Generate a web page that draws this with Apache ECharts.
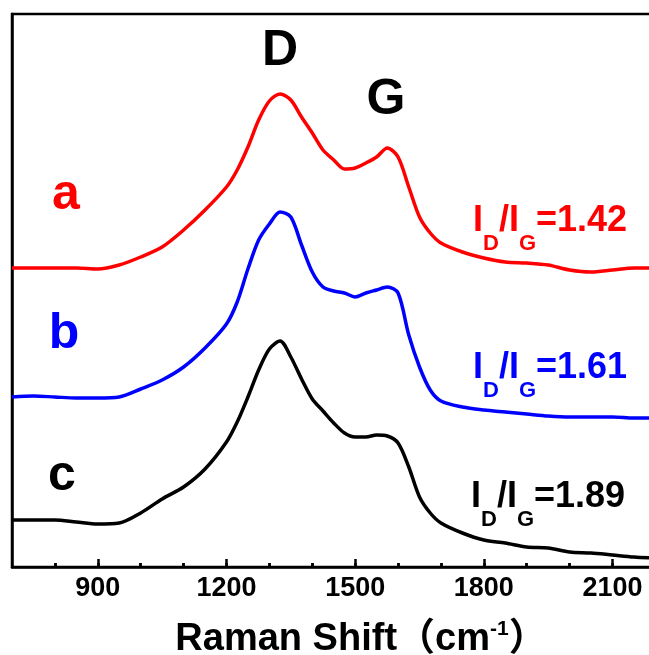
<!DOCTYPE html>
<html>
<head>
<meta charset="utf-8">
<script src="https://cdn.jsdelivr.net/npm/echarts@6/dist/echarts.min.js"></script>
<style>
html, body { margin: 0; padding: 0; background: #fff; }
#raman { width: 649px; height: 655px; }
</style>
</head>
<body>
<div id="raman"></div>
<script>
// raman shift (cm-1), shared by all three spectra
var shift = [700, 750, 800, 850, 900, 950, 1000, 1050, 1100, 1150, 1200, 1225, 1250, 1275, 1300, 1325, 1350, 1375, 1400, 1425,
    1450, 1475, 1500, 1525, 1550, 1575, 1600, 1625, 1650, 1675, 1700, 1750, 1800, 1850, 1900, 1950, 2000, 2050, 2100, 2150, 2192];
// intensities (a.u., already offset)
var specA = [299, 299, 299, 299, 298, 302, 310, 320, 337, 357, 380, 397, 420, 447, 466, 473, 467, 450, 434, 417,
    407, 398, 399, 404, 410, 419, 410, 380, 350, 334, 324, 315, 309, 305, 304, 302, 297, 295, 297, 299, 299];
var specB = [170, 171, 170, 169, 169, 170, 178, 187, 200, 219, 243, 265, 298, 327, 343, 355, 350, 322, 295, 280,
    276, 274, 270, 274, 277, 280, 274, 232, 200, 177, 166, 160, 157, 155, 153, 151, 150, 150, 150, 149, 149];
var specC = [47, 47, 47, 45, 43, 44, 54, 68, 80, 98, 125, 145, 170, 197, 218, 226, 210, 188, 168, 156,
    144, 134, 130, 130, 132, 131, 124, 100, 70, 54, 44, 34, 27, 24, 20, 19, 15, 14, 12, 10, 9];
var majorTicks = [900, 1200, 1500, 1800, 2100];
var minorTicks = [800, 1000, 1100, 1300, 1400, 1600, 1700, 1900, 2000];
var ratios = ['1.42', '1.61', '1.89'];

function pairs(ys) {
    return shift.map(function (x, i) { return [x, ys[i]]; });
}

var font = '"Liberation Sans", Arial, "Noto Sans CJK SC", sans-serif';

// inward tick marks as markLine segments (y axis is 1 unit per pixel)
function tickLines(values, len) {
    return values.map(function (v) {
        return [{coord: [v, 0]}, {coord: [v, len]}];
    });
}

function ratioText(val, color, left, top) {
    var main = {fontSize: 36, fontWeight: 'bold', fontFamily: font, lineHeight: 36, verticalAlign: 'top', color: color};
    var sub = {fontSize: 22, fontWeight: 'bold', fontFamily: font, lineHeight: 22, verticalAlign: 'top', padding: [30, 0, 0, 0], color: color};
    return {
        type: 'text', left: left, top: top, z: 100,
        style: {
            text: '{m|I}{s|D}{m|/I}{s|G}{m|=' + val + '}',
            rich: {m: main, s: sub},
            fill: color
        }
    };
}

function bigLabel(txt, color, x, y) {
    return {
        type: 'text', x: x, y: y, z: 100,
        style: {
            text: txt, fill: color, font: 'bold 50px ' + font,
            textAlign: 'center', textVerticalAlign: 'middle'
        }
    };
}

var option = {
    animation: false,
    grid: {left: 12, right: -3, top: 14, bottom: 88, outerBoundsMode: 'none', containLabel: false,
        show: true, borderColor: '#000', borderWidth: 2.5},
    xAxis: {
        type: 'value', min: 700, max: 2192, interval: 100,
        name: '{t|Raman Shift（cm}{p|-1}{t|）}',
        nameLocation: 'middle', nameGap: 52,
        nameTextStyle: {
            padding: [0, 0, 0, 58],
            rich: {
                t: {fontSize: 38, fontWeight: 'bold', fontFamily: font, color: '#000', lineHeight: 40, verticalAlign: 'bottom'},
                p: {fontSize: 21, fontWeight: 'bold', fontFamily: font, color: '#000', lineHeight: 20, verticalAlign: 'top'}
            }
        },
        axisLine: {show: true, onZero: false, lineStyle: {color: '#000', width: 2.5}},
        axisTick: {show: true, inside: true, length: 4, lineStyle: {color: '#000', width: 2.5}},
        axisLabel: {show: true, showMinLabel: false, showMaxLabel: false, margin: 8, color: '#000', fontSize: 27, fontWeight: 'bold', fontFamily: font,
            formatter: function (v) { return v % 300 === 0 ? String(v) : ''; }},
        splitLine: {show: false}
    },
    yAxis: {
        type: 'value', min: 0, max: 553,
        axisLine: {show: true, onZero: false, lineStyle: {color: '#000', width: 2.5}},
        axisTick: {show: false}, axisLabel: {show: false}, splitLine: {show: false}
    },
    series: [
        {name: 'a', type: 'line', data: pairs(specA), showSymbol: false, smooth: 0.3, lineStyle: {color: '#ff0000', width: 3.5}},
        {name: 'b', type: 'line', data: pairs(specB), showSymbol: false, smooth: 0.3, lineStyle: {color: '#0000ff', width: 3.5}},
        {name: 'c', type: 'line', data: pairs(specC), showSymbol: false, smooth: 0.3, lineStyle: {color: '#000000', width: 3.5},
            markLine: {
                silent: true, symbol: 'none', label: {show: false}, animation: false,
                lineStyle: {color: '#000', width: 2.5, type: 'solid'},
                data: tickLines(majorTicks, 8).concat(tickLines(minorTicks, 4))
            }}
    ],
    graphic: [
        bigLabel('D', '#000', 280, 51),
        bigLabel('G', '#000', 386, 100),
        bigLabel('a', '#ff0000', 66, 195),
        bigLabel('b', '#0000ff', 64, 334),
        bigLabel('c', '#000', 62, 476),
        ratioText(ratios[0], '#ff0000', 473, 203),
        ratioText(ratios[1], '#0000ff', 473, 350),
        ratioText(ratios[2], '#000', 471, 479)
    ]
};

var chart = echarts.init(document.getElementById('raman'));
chart.setOption(option);
</script>
</body>
</html>
